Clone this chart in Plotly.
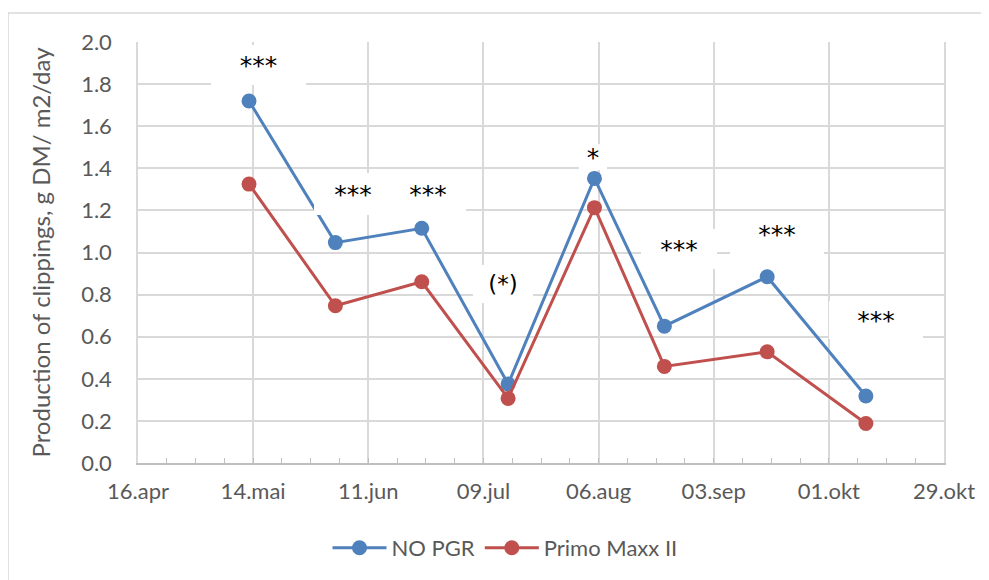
import plotly.graph_objects as go
from datetime import datetime, timedelta

# ---- data ----
dates = ["2019-05-13", "2019-06-03", "2019-06-24", "2019-07-15",
         "2019-08-05", "2019-08-22", "2019-09-16", "2019-10-10"]
no_pgr = [1.72, 1.047, 1.115, 0.375, 1.352, 0.65, 0.885, 0.318]
primo = [1.325, 0.747, 0.861, 0.307, 1.213, 0.459, 0.528, 0.188]

tick_dates = ["2019-04-16", "2019-05-14", "2019-06-11", "2019-07-09",
              "2019-08-06", "2019-09-03", "2019-10-01", "2019-10-29"]
tick_labels = ["16.apr", "14.mai", "11.jun", "09.jul",
               "06.aug", "03.sep", "01.okt", "29.okt"]
y_ticks = [0.0, 0.2, 0.4, 0.6, 0.8, 1.0, 1.2, 1.4, 1.6, 1.8, 2.0]

sig_labels = ["***", "***", "***", "(*)", "*", "***", "***", "***"]
sig_day_offsets = [29.2, 52.3, 70.5, 88.8, 110.65, 131.6, 155.4, 179.5]
sig_y = [1.890, 1.277, 1.277, 0.849, 1.453, 1.017, 1.088, 0.679]
# white text-box sizes (px)
sig_box_w = [95, 78, 76, 60, 28, 76, 94, 94]
sig_box_h = [40, 42, 42, 38, 26, 40, 44, 38]

series_names = ["NO PGR", "Primo Maxx II"]
y_title = "Production of clippings, g DM/ m2/day"

# ---- style ----
FONT = "Lato"
SIG_FONT = "DejaVu Sans"
BLUE = "#4F81BD"
RED = "#C0504D"
GRID = "#D9D9D9"
TXT = "#595959"

OFF = 8  # page body margin
W, H = 989, 580
L, R, T, B = 138 - OFF, 989 - (944 - OFF), 42 - OFF, 580 - (463 - OFF)
PW, PH = W - L - R, H - T - B

def px_x(px):
    return (px - OFF - L) / PW

def px_y(py):
    return (H - B - (py - OFF)) / PH

base = datetime(2019, 4, 16)
sig_dates = [base + timedelta(days=d) for d in sig_day_offsets]

fig = go.Figure()
for name, vals, col in [(series_names[0], no_pgr, BLUE), (series_names[1], primo, RED)]:
    fig.add_trace(go.Scatter(
        x=dates, y=vals, name=name, mode="lines+markers",
        line=dict(color=col, width=3),
        marker=dict(color=col, size=15),
        cliponaxis=False,
    ))

annotations = []
for lab, d, yv, bw, bh in zip(sig_labels, sig_dates, sig_y, sig_box_w, sig_box_h):
    annotations.append(dict(
        x=d, y=yv, xref="x", yref="y", text=lab, showarrow=False,
        font=dict(family=SIG_FONT, size=25 if "(" not in lab else 23, color="black"),
        bgcolor="white", width=bw, height=bh, borderpad=0, borderwidth=0,
        xanchor="center", yanchor="middle",
    ))

shapes = [
    dict(type="line", xref="paper", yref="paper",
         x0=px_x(8), x1=px_x(1000), y0=px_y(13), y1=px_y(13),
         line=dict(color=GRID, width=1.5), layer="below"),
    dict(type="line", xref="paper", yref="paper",
         x0=px_x(8), x1=px_x(8), y0=px_y(13), y1=px_y(600),
         line=dict(color=GRID, width=1.5), layer="below"),
]

fig.update_layout(
    width=W, height=H,
    margin=dict(l=L, r=R, t=T, b=B, autoexpand=False),
    paper_bgcolor="white", plot_bgcolor="white",
    font=dict(family=FONT, color=TXT, size=22),
    showlegend=True,
    legend=dict(orientation="h", xref="container", yref="container",
                x=(505 - OFF) / W, y=1 - (548 - OFF) / H,
                xanchor="center", yanchor="middle",
                font=dict(family=FONT, size=22, color=TXT),
                itemwidth=54, tracegroupgap=0),
    annotations=annotations,
    shapes=shapes,
    xaxis=dict(
        type="date", automargin=False,
        range=[tick_dates[0], tick_dates[-1]],
        tickmode="array", tickvals=tick_dates, ticktext=tick_labels,
        showgrid=True, gridcolor=GRID, gridwidth=1.5,
        showline=True, linecolor="#BFBFBF", linewidth=1.5,
        ticks="inside", ticklen=5, tickcolor="#BFBFBF",
        minor=dict(dtick=7 * 86400000, tick0=tick_dates[0], ticks="inside",
                   ticklen=5, tickcolor="#BFBFBF", showgrid=False),
        tickfont=dict(family=FONT, size=22, color=TXT),
        ticklabelstandoff=8,
        zeroline=False,
    ),
    yaxis=dict(
        automargin=False,
        range=[0, 2.0],
        tickmode="array", tickvals=y_ticks,
        ticktext=[f"{v:.1f}" for v in y_ticks],
        showgrid=True, gridcolor=GRID, gridwidth=1.5,
        showline=True, mirror=True, linecolor=GRID, linewidth=1.5,
        ticks="", zeroline=False,
        tickfont=dict(family=FONT, size=22, color=TXT),
        ticklabelstandoff=20,
        title=dict(text=y_title, font=dict(family=FONT, size=24, color=TXT),
                   standoff=24),
    ),
)

fig.write_html("out.html")
